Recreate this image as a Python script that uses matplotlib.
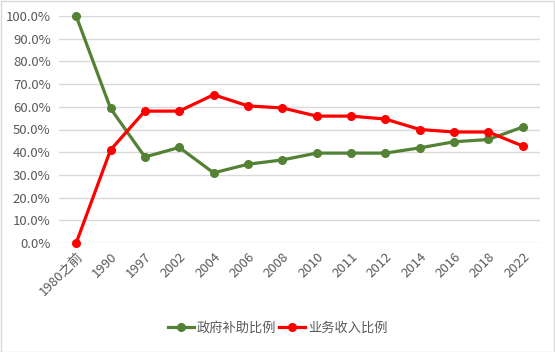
import matplotlib
matplotlib.use('Agg')
import matplotlib.pyplot as plt
from matplotlib.ticker import PercentFormatter
from matplotlib.patches import Rectangle

plt.rcParams['font.family'] = ['Noto Sans CJK SC', 'DejaVu Sans']

categories = ['1980之前', '1990', '1997', '2002', '2004', '2006', '2008',
              '2010', '2011', '2012', '2014', '2016', '2018', '2022']
gov_subsidy = [100.0, 59.3, 37.9, 42.1, 30.9, 34.7, 36.6,
               39.6, 39.6, 39.6, 41.9, 44.6, 45.6, 51.1]
business_income = [0.0, 41.0, 58.1, 58.1, 65.3, 60.4, 59.5,
                   55.9, 55.9, 54.6, 50.0, 48.9, 48.9, 42.7]

fig = plt.figure(figsize=(5.55, 3.52), dpi=100)
fig.patches.append(Rectangle((0.001, 0.001), 0.997, 0.996, transform=fig.transFigure,
                             fill=False, edgecolor='#d9d9d9', linewidth=1))
ax = fig.add_axes([59 / 555, 1 - 243 / 352, (540 - 59) / 555, (243 - 16) / 352])

x = range(len(categories))
ax.plot(x, gov_subsidy, color='#548235', lw=2.3, marker='o', ms=5.5,
        label='政府补助比例', clip_on=False)
ax.plot(x, business_income, color='#ff0000', lw=2.3, marker='o', ms=5.5,
        label='业务收入比例', clip_on=False)

ax.set_xlim(-0.5, len(categories) - 0.5)
ax.set_ylim(0, 100)
ax.set_yticks(range(0, 101, 10))
ax.yaxis.set_major_formatter(PercentFormatter(decimals=1))
ax.grid(axis='y', color='#d9d9d9', lw=1)
ax.set_axisbelow(True)
for s in ax.spines.values():
    s.set_visible(False)
ax.tick_params(length=0, labelsize=9.5, colors='#595959')
ax.tick_params(axis='y', pad=6)
ax.tick_params(axis='x', pad=5)
ax.set_xticks(list(x))
ax.set_xticklabels(categories, rotation=45, ha='right', rotation_mode='anchor')

fig.legend(loc='center', bbox_to_anchor=(0.5, 1 - 328 / 352), ncol=2, frameon=False,
           fontsize=9.5, handlelength=2.0, columnspacing=0.2, handletextpad=0.2,
           labelcolor='#595959')

fig.savefig('out.png', dpi=100)
